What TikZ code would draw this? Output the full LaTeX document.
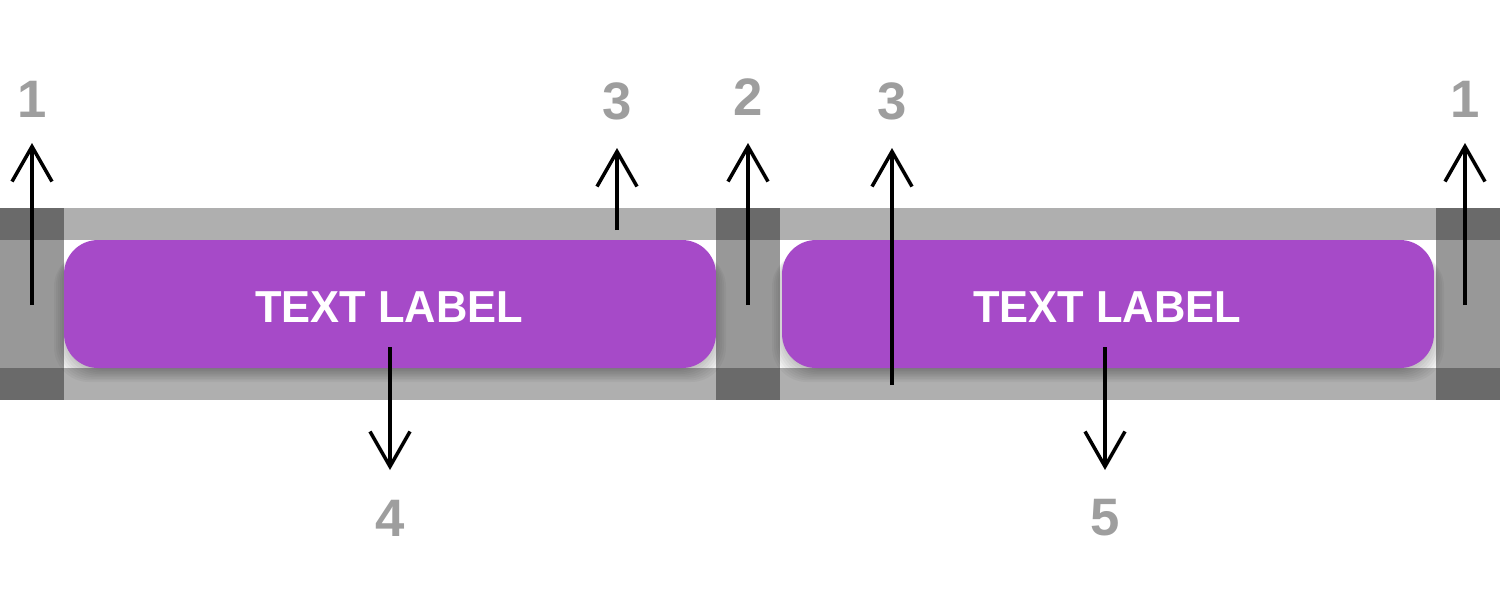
\documentclass[tikz,border=0pt]{standalone}
\usepackage{fontspec}
\setmainfont{Liberation Sans}
\newfontfamily\btnfont[FakeStretch=0.97]{Liberation Sans}
\usetikzlibrary{arrows.meta}
\definecolor{bandgray}{HTML}{AFAFAF}
\definecolor{darkgray}{HTML}{6A6A6A}
\definecolor{midgray}{HTML}{989898}
\definecolor{btnpurple}{HTML}{A64AC8}
\definecolor{numgray}{HTML}{9E9E9E}
\tikzset{
  button/.style={fill=btnpurple, rounded corners=0.68cm, minimum width=13.04cm, minimum height=2.56cm, inner sep=0pt, text=white},
  btntext/.style={text=white, inner sep=0pt, font=\btnfont\fontsize{25.5}{27}\selectfont\bfseries},
  numlabel/.style={text=numgray, font=\fontsize{30}{32}\selectfont\bfseries, inner sep=0pt},
  arr/.style={draw=black, line width=0.07cm, -{Straight Barb[length=0.7cm,width=0.8cm,line width=0.07cm]}},
}
\begin{document}
\begin{tikzpicture}[x=0.02cm,y=-0.02cm]
\useasboundingbox (0,0) rectangle (1500,600);
% band
\fill[bandgray] (0,208) rectangle (1500,400);
\fill[white] (64,240) rectangle (716,368);
\fill[white] (780,240) rectangle (1436,368);
% dark columns
\foreach \x in {0,716,1436}{
  \fill[darkgray] (\x,208) rectangle (\x+64,400);
  \fill[midgray] (\x,240) rectangle (\x+64,368);
}
% shadows
\foreach \cx in {390,1108}{
  \foreach \i in {0,...,9}{
    \fill[black, opacity=0.035, rounded corners=0.7cm]
      (\cx-326-10+2*\i, 240+10-1.2*\i+2) rectangle (\cx+326+10-2*\i, 368+14-1.6*\i);
  }
}
% buttons
\node[button] (b1) at (390,304) {};
\node[button] (b2) at (1108,304) {};
\node[btntext] (t1) at (389,307) {TEXT LABEL};
\node[btntext] (t2) at (1107,307) {TEXT LABEL};
% labels
\node[numlabel] (n1a) at (32,99) {1};
\node[numlabel] (n3a) at (617,101) {3};
\node[numlabel] (n2) at (748,97) {2};
\node[numlabel] (n3b) at (892,101) {3};
\node[numlabel] (n1b) at (1465,99) {1};
\node[numlabel] (n4) at (390,518) {4};
\node[numlabel] (n5) at (1105,518) {5};
% coordinates
\coordinate (s1a) at (32,305);  \coordinate (t1a) at (32,143);
\coordinate (s3a) at (617,230); \coordinate (t3a) at (617,148);
\coordinate (s2) at (748,305);  \coordinate (t2a) at (748,143);
\coordinate (s3b) at (892,385); \coordinate (t3b) at (892,148);
\coordinate (s1b) at (1465,305); \coordinate (t1b) at (1465,143);
\coordinate (s4) at (390,347);  \coordinate (t4) at (390,470);
\coordinate (s5) at (1105,347); \coordinate (t5) at (1105,470);
% arrows
\draw[arr] (s1a) -- (t1a);
\draw[arr] (s3a) -- (t3a);
\draw[arr] (s2) -- (t2a);
\draw[arr] (s3b) -- (t3b);
\draw[arr] (s1b) -- (t1b);
\draw[arr] (s4) -- (t4);
\draw[arr] (s5) -- (t5);
\end{tikzpicture}
\end{document}
